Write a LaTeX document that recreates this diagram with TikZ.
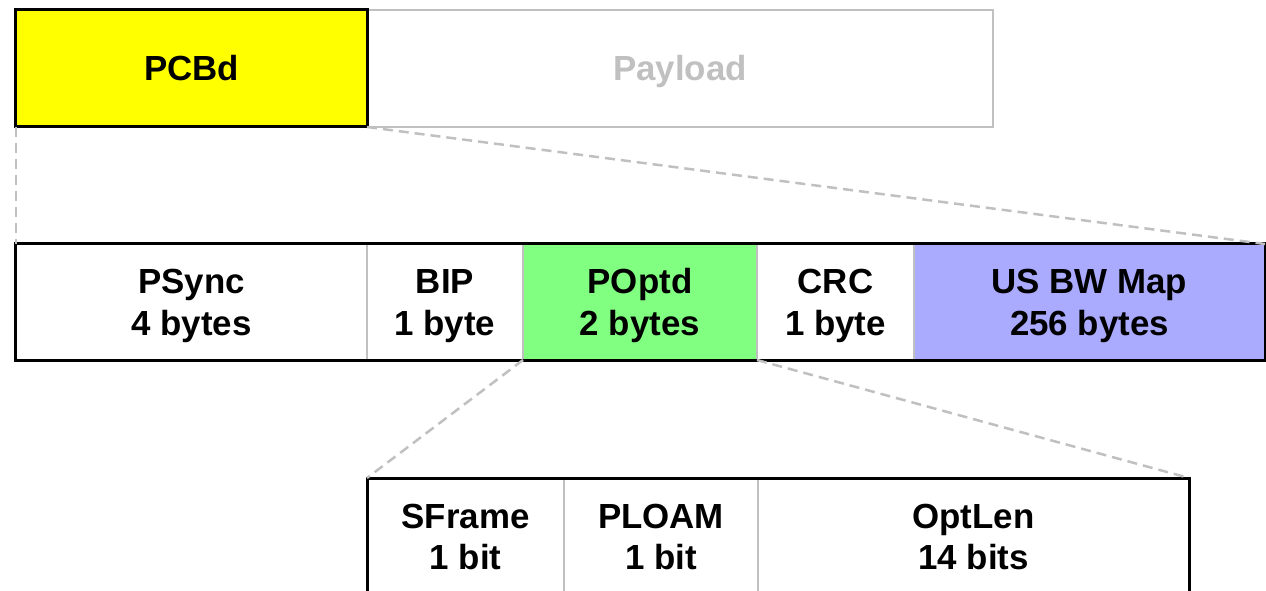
\documentclass[tikz,border=0pt]{standalone}
\usepackage{fontspec}
\setmainfont{Liberation Sans}
\definecolor{fieldgray}{RGB}{192,192,192}
\definecolor{pcbdyellow}{RGB}{255,255,0}
\definecolor{optgreen}{RGB}{128,255,128}
\definecolor{mapblue}{RGB}{170,170,255}
% uniform line box so every label sits at the same height
\newcommand\fstrut{\rule[-8bp]{0pt}{41bp}}
\tikzset{
  field/.style={rectangle, draw=fieldgray, line width=2.5bp, inner sep=0pt, outer sep=0pt,
    align=center, font=\fontsize{35}{42}\selectfont\bfseries},
  frameline/.style={draw=black, line width=3bp},
  zoomline/.style={draw=fieldgray, line width=2.5bp, dash pattern=on 10bp off 6bp},
}
\begin{document}
\begin{tikzpicture}[x=1bp, y=-1bp]
  \useasboundingbox (0,0) rectangle (1266,591);
  \clip (0,0) rectangle (1266,591);

  % top row: PCBd header followed by the payload
  \node[field, fill=white, text=fieldgray, minimum width=626bp, minimum height=117bp] (payload) at (680,68.5) {\fstrut Payload};
  \node[field, draw=black, line width=3bp, fill=pcbdyellow, minimum width=351bp, minimum height=117bp] (pcbd) at (191.5,68.5) {\fstrut PCBd};

  % middle row: fields of the PCBd
  \node[field, fill=white, minimum width=351bp, minimum height=116bp] (psync) at (191.5,302) {\fstrut PSync\\\fstrut 4 bytes};
  \node[field, fill=white, minimum width=156bp, minimum height=116bp] (bip) at (445,302) {\fstrut BIP\\\fstrut 1 byte};
  \node[field, fill=optgreen, minimum width=234bp, minimum height=116bp] (poptd) at (640,302) {\fstrut POptd\\\fstrut 2 bytes};
  \node[field, fill=white, minimum width=157bp, minimum height=116bp] (crc) at (835.5,302) {\fstrut CRC\\\fstrut 1 byte};
  \node[field, fill=mapblue, minimum width=351bp, minimum height=116bp] (bwmap) at (1089.5,302) {\fstrut US BW Map\\\fstrut 256 bytes};
  \draw[frameline] (psync.north west) rectangle (bwmap.south east);

  % bottom row: bits of the POptd field
  \node[field, fill=white, minimum width=197bp, minimum height=117bp] (sframe) at (465.5,536.5) {\fstrut SFrame\\\fstrut 1 bit};
  \node[field, fill=white, minimum width=194bp, minimum height=117bp] (ploam) at (661,536.5) {\fstrut PLOAM\\\fstrut 1 bit};
  \node[field, fill=white, minimum width=431bp, minimum height=117bp] (optlen) at (973.5,536.5) {\fstrut OptLen\\\fstrut 14 bits};
  \draw[frameline] (sframe.north west) rectangle (optlen.south east);

  % expansion guides
  \draw[zoomline] (pcbd.south west) -- (psync.north west);
  \draw[zoomline] (pcbd.south east) -- (bwmap.north east);
  \draw[zoomline] (poptd.south west) -- (sframe.north west);
  \draw[zoomline] (poptd.south east) -- (optlen.north east);
\end{tikzpicture}
\end{document}
